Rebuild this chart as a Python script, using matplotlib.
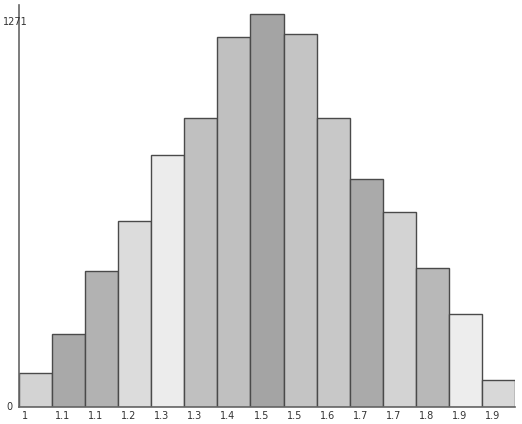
import matplotlib
matplotlib.use("Agg")
import matplotlib.pyplot as plt
from matplotlib.transforms import offset_copy

labels = ["1", "1.1", "1.1", "1.2", "1.3", "1.3", "1.4", "1.5", "1.5", "1.6", "1.7", "1.7", "1.8", "1.9", "1.9"]
values = [110, 237, 441, 603, 814, 934, 1197, 1271, 1206, 934, 736, 632, 451, 302, 88]
colors = ["#d3d3d3", "#a9a9a9", "#b2b2b2", "#dcdcdc", "#ececec", "#c0c0c0", "#c0c0c0", "#a4a4a4",
          "#c4c4c4", "#c8c8c8", "#aaaaaa", "#d3d3d3", "#b8b8b8", "#ededed", "#d8d8d8"]
y_min_label = "0"
y_max_label = "1271"

fig = plt.figure(figsize=(5.22, 4.24), dpi=100)
ax = fig.add_axes([19/522, 17/424, 496/522, 402/424])
n = len(values)
x = list(range(n))
ax.bar(x, values, width=1.0, align="edge", color=colors, edgecolor="#4a4a4a", linewidth=1.0)
ax.set_xlim(0, n)
ax.set_ylim(0, 1300)
for s in ["top", "right"]:
    ax.spines[s].set_visible(False)
ax.spines["left"].set_color("#666666")
ax.spines["bottom"].set_color("#666666")
ax.spines["left"].set_linewidth(1.2)
ax.spines["bottom"].set_linewidth(1.2)
ax.set_xticks([])
ax.set_yticks([])

tr = offset_copy(ax.transData, fig=fig, x=4, y=-5, units="points")
for i, lab in enumerate(labels):
    ax.text(i, 0, lab, transform=offset_copy(ax.transData, fig=fig, x=3, y=-4, units="dots"),
            ha="left", va="top", fontsize=7, color="#333333", clip_on=False)
ax.text(0, 0, y_min_label, transform=offset_copy(ax.transData, fig=fig, x=-10, y=0, units="dots"),
        ha="center", va="center", fontsize=7, color="#333333", clip_on=False)
ax.text(0, 1271, y_max_label, transform=offset_copy(ax.transData, fig=fig, x=-4, y=-8, units="dots"),
        ha="center", va="center", fontsize=7, color="#333333", clip_on=False)

fig.savefig("out.png", dpi=100)
